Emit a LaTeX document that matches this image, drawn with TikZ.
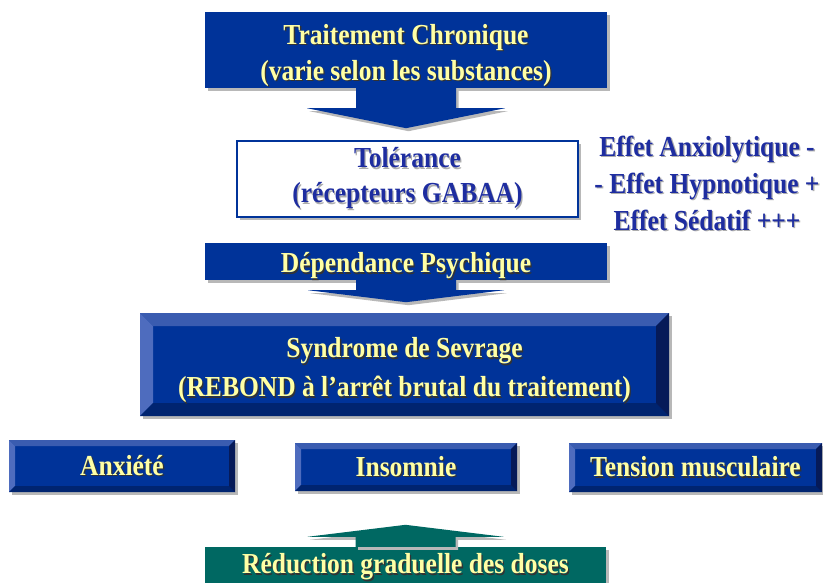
\documentclass[tikz,border=0pt]{standalone}
\usepackage{fontspec}
\setmainfont{Liberation Serif}[FakeStretch=0.88]
\definecolor{boxblue}{RGB}{0,51,153}
\definecolor{bevtop}{RGB}{58,92,176}
\definecolor{bevleft}{RGB}{78,108,190}
\definecolor{bevbot}{RGB}{0,36,112}
\definecolor{bevright}{RGB}{6,26,88}
\definecolor{txtyel}{RGB}{255,255,165}
\definecolor{txtblue}{RGB}{30,45,160}
\definecolor{tealbox}{RGB}{0,104,98}
\newcommand\shy[1]{\leavevmode\rlap{\hspace{1.3pt}\raisebox{-1.3pt}{\color{black!80}#1}}#1}
\newcommand\shg[1]{\leavevmode\rlap{\hspace{1.3pt}\raisebox{-1.5pt}{\color{black!32}#1}}#1}
\newcommand\lowered[2]{\raisebox{#1}[\height][\depth]{\begin{tabular}{@{}c@{}}#2\end{tabular}}}
\newcommand\bevelpic[1]{%
  \fill[bevtop] (path picture bounding box.north west) -- (path picture bounding box.north east)
    -- ([shift={(-#1,-#1)}]path picture bounding box.north east) -- ([shift={(#1,-#1)}]path picture bounding box.north west) -- cycle;
  \fill[bevleft] (path picture bounding box.north west) -- ([shift={(#1,-#1)}]path picture bounding box.north west)
    -- ([shift={(#1,#1)}]path picture bounding box.south west) -- (path picture bounding box.south west) -- cycle;
  \fill[bevbot] (path picture bounding box.south west) -- (path picture bounding box.south east)
    -- ([shift={(-#1,#1)}]path picture bounding box.south east) -- ([shift={(#1,#1)}]path picture bounding box.south west) -- cycle;
  \fill[bevright] (path picture bounding box.south east) -- (path picture bounding box.north east)
    -- ([shift={(-#1,-#1)}]path picture bounding box.north east) -- ([shift={(-#1,#1)}]path picture bounding box.south east) -- cycle;
}
\begin{document}
\begin{tikzpicture}[x=1pt,y=-1pt,
  bigfont/.style={font=\bfseries\fontsize{29}{#1}\selectfont},
  shad/.style={preaction={fill=black!28, transform canvas={shift={(2.5pt,-3pt)}}}},
  arrowbody/.style={shad, fill=#1, text=txtyel, inner sep=0pt, align=center},
  bevelbox/.style={shad, fill=boxblue, text=txtyel, inner sep=0pt, align=center,
    path picture={\bevelpic{#1}}},
  tolbox/.style={shad, fill=white, draw=boxblue, line width=2pt, text=txtblue, inner sep=0pt, align=center},
  headblue/.style={shad, fill=boxblue},
  headteal/.style={shad, fill=tealbox}
]
\useasboundingbox (0,0) rectangle (823,582);

% top arrow
\node[arrowbody=boxblue, bigfont=36, minimum width=402pt, minimum height=76pt] (trait) at (406,50)
  {\lowered{-5pt}{\shy{Traitement Chronique}\\\shy{(varie selon les substances)}}};
\fill[headblue] ([xshift=-50pt]trait.south) -- ([xshift=-50pt,yshift=-20pt]trait.south)
  -- ([xshift=-99pt,yshift=-20pt]trait.south) -- ([yshift=-40pt]trait.south)
  -- ([xshift=99pt,yshift=-20pt]trait.south) -- ([xshift=50pt,yshift=-20pt]trait.south)
  -- ([xshift=50pt]trait.south) -- cycle;

% tolerance
\node[tolbox, bigfont=35, minimum width=341pt, minimum height=76pt] (tol) at (407.5,179)
  {\shg{Tolérance}\\\shg{(récepteurs GABAA)}};

% effects
\node[text=txtblue, bigfont=37, align=center, inner sep=0pt] (eff) at (707,184)
  {\shg{Effet Anxiolytique -}\\\shg{- Effet Hypnotique +}\\\shg{Effet Sédatif +++}};

% dependance arrow
\node[arrowbody=boxblue, bigfont=35, minimum width=402pt, minimum height=37pt] (dep) at (406,261.5)
  {\raisebox{-5pt}[\height][\depth]{\shy{Dépendance Psychique}}};
\fill[headblue] ([xshift=-50pt]dep.south) -- ([xshift=-50pt,yshift=-10pt]dep.south)
  -- ([xshift=-98pt,yshift=-10pt]dep.south) -- ([yshift=-22pt]dep.south)
  -- ([xshift=98pt,yshift=-10pt]dep.south) -- ([xshift=50pt,yshift=-10pt]dep.south)
  -- ([xshift=50pt]dep.south) -- cycle;

% syndrome
\node[bevelbox=13pt, bigfont=39, minimum width=529pt, minimum height=103pt] (syn) at (404.5,364.5)
  {\lowered{-5pt}{\shy{Syndrome de Sevrage}\\\shy{(REBOND à l’arrêt brutal du traitement)}}};

% symptoms
\node[bevelbox=6pt, bigfont=35, minimum width=226pt, minimum height=52pt] (anx) at (122,466)
  {\shy{Anxiété}};
\node[bevelbox=6pt, bigfont=35, minimum width=222pt, minimum height=48pt] (ins) at (406,467)
  {\shy{Insomnie}};
\node[bevelbox=6pt, bigfont=35, minimum width=253pt, minimum height=49pt] (ten) at (695.5,467.5)
  {\shy{Tension musculaire}};

% reduction arrow
\node[arrowbody=tealbox, bigfont=35, minimum width=401pt, minimum height=38pt] (red) at (405.5,566)
  {\raisebox{-1.5pt}[\height][\depth]{\shy{Réduction graduelle des doses}}};
\fill[headteal] ([xshift=-50pt]red.north) -- ([xshift=-50pt,yshift=10pt]red.north)
  -- ([xshift=-98pt,yshift=10pt]red.north) -- ([yshift=22pt]red.north)
  -- ([xshift=98pt,yshift=10pt]red.north) -- ([xshift=50pt,yshift=10pt]red.north)
  -- ([xshift=50pt]red.north) -- cycle;
\end{tikzpicture}
\end{document}
